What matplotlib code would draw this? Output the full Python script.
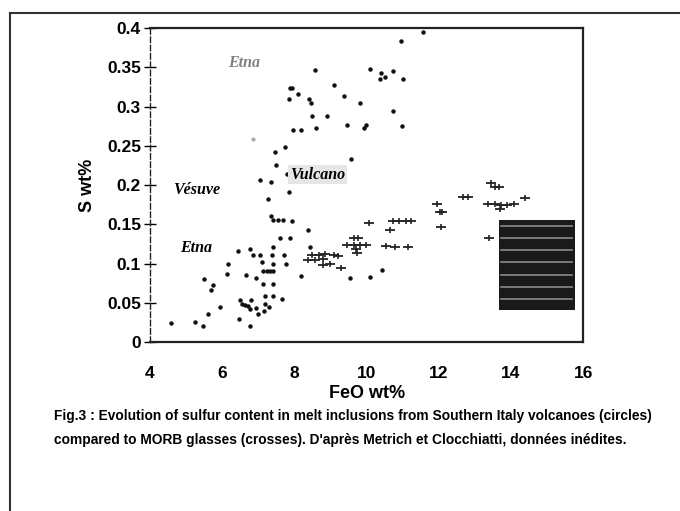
import matplotlib.pyplot as plt
import matplotlib.patches as mpatches
from matplotlib.lines import Line2D

# melt inclusions, Southern Italy volcanoes (circles)
feo_incl = [11.56, 10.94, 8.56, 10.10, 10.39, 10.72, 10.36, 10.50, 11.02, 9.09,
            7.88, 7.94, 8.09, 7.84, 8.41, 8.45, 9.38, 9.81, 10.73, 8.50,
            8.89, 7.97, 8.17, 8.59, 9.46, 9.98, 9.92, 10.99, 7.73, 7.47,
            7.49, 9.58, 7.80, 7.06, 7.36, 7.84, 7.28, 7.34, 7.42, 7.54,
            7.69, 7.94, 8.39, 7.60, 7.87, 7.42, 8.42, 6.44, 6.76, 6.85,
            7.04, 7.39, 7.71, 6.16, 7.10, 7.42, 7.76, 7.14, 7.24, 7.32,
            7.40, 6.12, 6.65, 8.19, 9.55, 10.09, 10.42, 5.50, 5.75, 5.70,
            6.94, 7.12, 7.40, 7.42, 7.18, 7.66, 6.50, 6.55, 6.62, 6.72,
            6.80, 6.77, 7.18, 7.30, 7.15, 6.94, 7.00, 5.94, 5.60, 6.46,
            5.26, 5.46, 4.58, 6.78]
s_incl = [0.395, 0.384, 0.346, 0.348, 0.343, 0.345, 0.335, 0.337, 0.335, 0.328,
          0.324, 0.324, 0.316, 0.309, 0.309, 0.304, 0.313, 0.304, 0.294, 0.288,
          0.288, 0.270, 0.270, 0.273, 0.276, 0.277, 0.273, 0.275, 0.248, 0.242,
          0.225, 0.233, 0.214, 0.206, 0.204, 0.191, 0.182, 0.160, 0.155, 0.156,
          0.155, 0.154, 0.143, 0.132, 0.132, 0.121, 0.121, 0.116, 0.118, 0.111,
          0.111, 0.111, 0.111, 0.100, 0.102, 0.100, 0.100, 0.091, 0.091, 0.091,
          0.091, 0.087, 0.086, 0.084, 0.082, 0.083, 0.092, 0.080, 0.072, 0.066,
          0.081, 0.074, 0.074, 0.058, 0.058, 0.055, 0.053, 0.049, 0.047, 0.046,
          0.053, 0.042, 0.048, 0.044, 0.040, 0.043, 0.036, 0.045, 0.036, 0.029,
          0.026, 0.020, 0.024, 0.021]
# faint point
feo_faint = [6.86]
s_faint = [0.258]

# MORB glasses (crosses)
feo_morb = [13.45, 13.55, 13.67, 12.68, 12.82, 14.38, 13.36, 13.55, 13.72, 13.90,
            14.08, 13.70, 11.95, 12.04, 12.10, 12.07, 13.38, 10.06, 10.72, 10.90,
            11.08, 11.24, 10.66, 10.54, 10.78, 11.14, 9.64, 9.76, 9.46, 9.64,
            9.82, 9.99, 9.70, 9.74, 8.50, 8.68, 8.86, 9.10, 9.22, 8.38,
            8.56, 8.80, 8.80, 8.98, 9.28]
s_morb = [0.203, 0.198, 0.197, 0.185, 0.185, 0.184, 0.176, 0.176, 0.175, 0.175,
          0.176, 0.170, 0.176, 0.166, 0.165, 0.146, 0.133, 0.152, 0.154, 0.154,
          0.154, 0.154, 0.143, 0.122, 0.121, 0.121, 0.133, 0.133, 0.123, 0.123,
          0.123, 0.123, 0.119, 0.113, 0.111, 0.111, 0.112, 0.111, 0.110, 0.104,
          0.105, 0.106, 0.098, 0.100, 0.094]

x_ticks = [4, 6, 8, 10, 12, 14, 16]
y_ticks = [0, 0.05, 0.1, 0.15, 0.2, 0.25, 0.3, 0.35, 0.4]
y_labels = ['0', '0.05', '0.1', '0.15', '0.2', '0.25', '0.3', '0.35', '0.4']

fig = plt.figure(figsize=(6.8, 5.11), dpi=100)
ax = fig.add_axes([0.2206, 0.3307, 0.637, 0.6145])

ax.plot(feo_incl, s_incl, 'o', color='#111111', ms=3.2, mec='none')
ax.plot(feo_faint, s_faint, 'o', color='#aaaaaa', ms=3, mec='none')
# crosses: wider than tall, as in the scan
ax.plot(feo_morb, s_morb, '_', color='#222222', ms=6.5, mew=1.3)
ax.plot(feo_morb, s_morb, '|', color='#222222', ms=4.5, mew=1.2)

ax.set_xlim(4, 16)
ax.set_ylim(0, 0.4)
ax.set_xticks(x_ticks)
ax.set_yticks(y_ticks)
ax.set_yticklabels(y_labels)
ax.tick_params(axis='y', direction='inout', length=9, width=1, labelsize=12.5, pad=2)
ax.tick_params(axis='x', direction='in', length=0, labelsize=12.5, pad=17)
for lab in ax.get_xticklabels() + ax.get_yticklabels():
    lab.set_fontweight('bold')
    lab.set_family('Liberation Sans')
for sp in ax.spines.values():
    sp.set_linewidth(1.6)
    sp.set_color('#222222')
ax.spines['left'].set_linewidth(1.0)
ax.spines['left'].set_linestyle((0, (4, 2)))

ax.set_xlabel('FeO wt%', fontsize=13, fontweight='bold', family='Liberation Sans', labelpad=3)
ax.set_ylabel('S wt%', fontsize=13, fontweight='bold', family='Liberation Sans', labelpad=8)

lab_kw = dict(family='Liberation Serif', style='italic', fontweight='bold', fontsize=11.5)
ax.text(6.16, 0.355, 'Etna', color='#808080', va='center', **lab_kw)
ax.text(4.64, 0.194, 'Vésuve', color='black', va='center', **lab_kw)
ax.text(4.83, 0.120, 'Etna', color='black', va='center', **lab_kw)
ax.text(7.88, 0.213, 'Vulcano', color='black', va='center',
        bbox=dict(boxstyle='square,pad=0.1', fc='#e6e6e6', ec='none'), **lab_kw)

# legend block (illegible in the scan)
ax.add_patch(mpatches.Rectangle((13.67, 0.041), 2.1, 0.114, fc='#1a1a1a', ec='none'))
for k in range(7):
    yy = 0.148 - k * 0.0155
    ax.plot([13.72, 15.7], [yy, yy], color='#bbbbbb', lw=1.2, alpha=0.7)

fig.text(0.079, 0.186,
         'Fig.3 : Evolution of sulfur content in melt inclusions from Southern Italy volcanoes (circles)',
         fontsize=9.9, fontweight='bold', family='Liberation Sans', va='center')
fig.text(0.079, 0.139,
         "compared to MORB glasses (crosses). D'après Metrich et Clocchiatti, données inédites.",
         fontsize=9.9, fontweight='bold', family='Liberation Sans', va='center')

# outer frame of the scanned page
fig.add_artist(Line2D([0.015, 1.0], [0.974, 0.974], color='#333333', lw=1.5))
fig.add_artist(Line2D([0.015, 0.015], [0.0, 0.974], color='#333333', lw=1.5))

fig.savefig('out.png', dpi=100)
